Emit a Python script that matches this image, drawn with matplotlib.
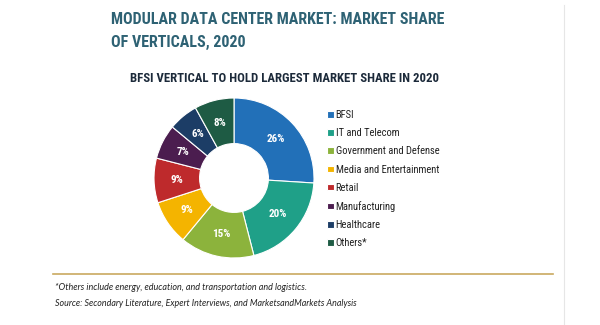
import numpy as np
import matplotlib.pyplot as plt

verticals = ['BFSI', 'IT and Telecom', 'Government and Defense', 'Media and Entertainment',
             'Retail', 'Manufacturing', 'Healthcare', 'Others*']
share = [26, 20, 15, 9, 9, 7, 6, 8]
colors = ['#2270b8', '#1fa088', '#8cb33c', '#f4b400', '#be2a2c', '#4b1d4f', '#1c3d66', '#1e5b44']

title = 'MODULAR DATA CENTER MARKET: MARKET SHARE\nOF VERTICALS, 2020'
subtitle = 'BFSI VERTICAL TO HOLD LARGEST MARKET SHARE IN 2020'
note1 = '*Others include energy, education, and transportation and logistics.'
note2 = 'Source: Secondary Literature, Expert Interviews, and MarketsandMarkets Analysis'

W, H = 600, 325
fig = plt.figure(figsize=(6, 3.25), dpi=100)
fig.patch.set_facecolor('white')

cond = ['Roboto Condensed', 'DejaVu Sans']
ital = ['Lato', 'DejaVu Sans']

fig.text(111 / W, 1 - 31 / H, title, ha='left', va='center', fontsize=11.5, fontweight='bold',
         color='#2e6274', family=cond, linespacing=1.65)
fig.text(285 / W, 1 - 78 / H, subtitle, ha='center', va='center', fontsize=9.2, fontweight='bold',
         color='#1c2a3a', family=cond)

# donut
cx, cy, r = 234, 178, 80
ax = fig.add_axes([(cx - r) / W, (H - cy - r) / H, 2 * r / W, 2 * r / H])
wedges, _ = ax.pie(share, colors=colors, startangle=90, counterclock=False, radius=1.0,
                   wedgeprops=dict(width=0.57, edgecolor='white', linewidth=0.8))
for w, v in zip(wedges, share):
    mid = np.deg2rad((w.theta1 + w.theta2) / 2)
    ax.text(0.715 * np.cos(mid), 0.715 * np.sin(mid), f'{v}%', ha='center', va='center',
            color='white', fontsize=8, fontweight='bold', family=cond)
ax.set_xlim(-1, 1)
ax.set_ylim(-1, 1)
ax.set_aspect('equal')
ax.axis('off')

leg = fig.legend(wedges, verticals, loc='upper left', bbox_to_anchor=(323 / W, 1 - 106 / H),
                 frameon=False, handlelength=0.6, handleheight=0.6, handletextpad=0.2,
                 labelspacing=0.77, borderaxespad=0,
                 prop=dict(family=cond, size=7.6))
for t in leg.get_texts():
    t.set_color('#222222')

# divider lines
fig.add_artist(plt.Line2D([53 / W, 553 / W], [1 - 274 / H, 1 - 274 / H], color='#c9a960', lw=1.2))
fig.add_artist(plt.Line2D([564 / W, 564 / W], [1 - 5 / H, 0], color='#e6e6e6', lw=0.8))

fig.text(55 / W, 1 - 287 / H, note1, ha='left', va='center', fontsize=6.5, style='italic',
         color='#222222', family=ital)
fig.text(55 / W, 1 - 303 / H, note2, ha='left', va='center', fontsize=6.4, style='italic',
         color='#222222', family=ital)

fig.savefig('out.png', dpi=100)
